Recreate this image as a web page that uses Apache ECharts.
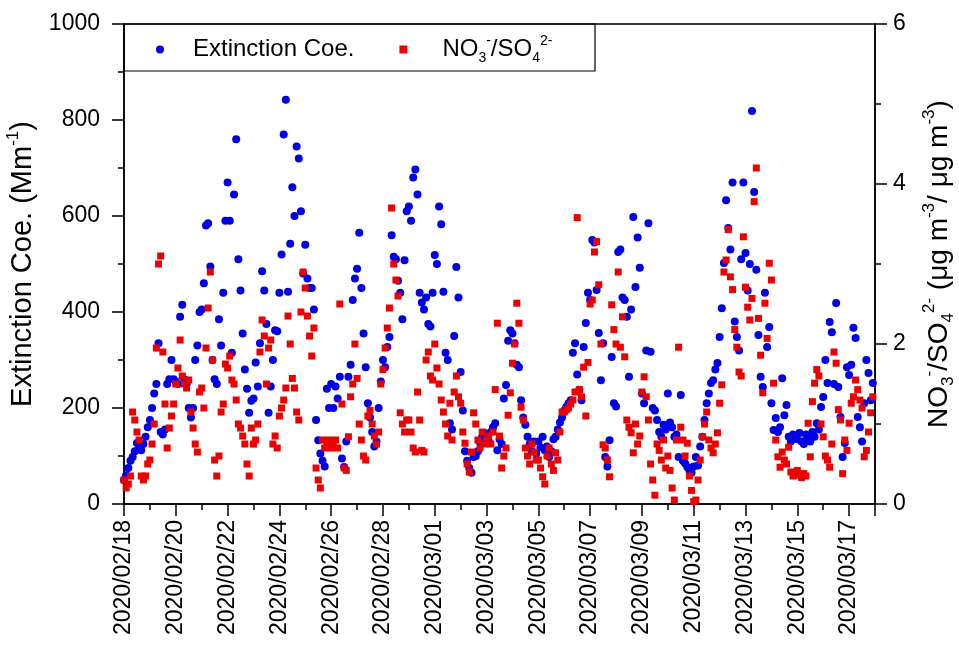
<!DOCTYPE html>
<html>
<head>
<meta charset="utf-8">
<script src="https://cdn.jsdelivr.net/npm/echarts@6/dist/echarts.min.js"></script>
<style>
  html, body { margin: 0; padding: 0; background: #fff; }
  #chart { width: 959px; height: 646px; }
</style>
</head>
<body>
<div id="chart"></div>
<script>
// Two-hourly readings starting 2020-02-18 00:00 (12 per day, 29 days)
const readingsPerDay = 12;
const dayCount = 29;

// Tick labels every second day along the time axis
const dateTicks = [
  '2020/02/18', '2020/02/20', '2020/02/22', '2020/02/24', '2020/02/26',
  '2020/02/28', '2020/03/01', '2020/03/03', '2020/03/05', '2020/03/07',
  '2020/03/09', '2020/03/11', '2020/03/13', '2020/03/15', '2020/03/17'
];

// Extinction coefficient (Mm^-1), one row per day
const extinction = [
  50, 60, 75, 90, 98, 110, 127, 120, 112, 125, 140, 160,
  175, 200, 230, 250, 335, 150, 145, 155, 250, 260, 300, 260,
  255, 250, 390, 415, 260, 250, 200, 180, 200, 300, 330, 400,
  405, 460, 580, 585, 495, 300, 260, 250, 385, 330, 440, 590,
  670, 590, 315, 645, 760, 510, 445, 355, 280, 240, 190, 215,
  220, 295, 245, 335, 485, 445, 375, 190, 245, 300, 362, 360,
  440, 520, 770, 842, 442, 542, 660, 600, 745, 720, 610, 480,
  540, 470, 450, 450, 405, 175, 133, 105, 90, 78, 240, 200,
  250, 200, 245, 220, 265, 95, 77, 130, 265, 290, 425, 470,
  490, 565, 450, 355, 285, 210, 180, 150, 120, 130, 200, 255,
  300, 285, 327, 348, 560, 515, 510, 465, 440, 385, 508, 610,
  620, 590, 680, 697, 645, 440, 420, 405, 430, 375, 370, 440,
  519, 500, 620, 583, 442, 315, 300, 168, 155, 350, 494, 430,
  275, 195, 110, 90, 75, 65, 98, 100, 110, 128, 140, 148,
  145, 130, 150, 160, 168, 112, 135, 125, 220, 248, 340, 362,
  355, 335, 290, 285, 216, 180, 165, 140, 125, 110, 130, 105,
  130, 118, 140, 112, 120, 98, 110, 135, 140, 155, 170, 180,
  195, 202, 210, 216, 315, 335, 270, 238, 216, 327, 377, 440,
  425, 550, 545, 446, 356, 258, 335, 98, 78, 133, 306, 210,
  203, 525, 530, 430, 425, 390, 265, 405, 598, 452, 555, 492,
  230, 210, 320, 585, 317, 200, 195, 175, 150, 140, 165, 155,
  230, 170, 160, 140, 145, 98, 227, 90, 85, 77, 70, 65,
  78, 98, 80, 120, 140, 175, 210, 230, 252, 258, 280, 294,
  348, 408, 502, 633, 575, 530, 670, 380, 348, 320, 510, 670,
  523, 445, 500, 819, 650, 488, 352, 265, 244, 440, 327, 369,
  210, 154, 179, 150, 160, 262, 185, 206, 140, 130, 145, 140,
  135, 148, 130, 125, 145, 138, 130, 150, 140, 168, 155, 202,
  223, 300, 252, 379, 358, 250, 419, 244, 181, 98, 127, 285,
  269, 290, 367, 346, 181, 160, 130, 210, 300, 273, 216, 252
];

// NO3-/SO4 2- mass ratio, one row per day
const ratio = [
  0.3, 0.2, 0.25, 0.35, 1.15, 1.05, 0.9, 0.8, 0.35, 0.3, 0.35, 0.5,
  0.55, 0.75, 1.0, 1.95, 3.0, 3.1, 1.9, 1.25, 0.7, 0.95, 1.1, 1.25,
  1.5, 1.7, 2.05, 1.6, 1.5, 1.45, 1.55, 1.15, 0.95, 0.75, 0.65, 1.4,
  1.45, 1.2, 1.95, 2.45, 2.9, 1.8, 0.55, 0.35, 0.6, 1.15, 1.25, 1.75,
  1.7, 1.85, 1.55, 1.5, 1.3, 1.0, 0.95, 0.85, 0.75, 0.5, 0.35, 0.95,
  0.75, 0.8, 1.0, 1.9, 2.3, 2.1, 1.5, 1.95, 2.05, 0.75, 0.85, 0.7,
  1.1, 1.2, 1.3, 1.45, 2.35, 2.0, 1.57, 1.45, 1.15, 1.05, 2.4, 2.9,
  2.7, 2.35, 2.1, 1.85, 2.2, 0.45, 0.3, 0.2, 0.8, 0.7, 0.75, 0.8,
  0.7, 0.75, 0.8, 0.7, 2.5, 1.25, 0.45, 0.42, 0.84, 1.34, 1.5, 2.0,
  1.57, 1.0, 0.8, 0.6, 0.55, 1.1, 1.17, 1.0, 0.85, 0.75, 0.9, 1.5,
  1.68, 1.95, 2.2, 2.45, 3.7, 3.0, 2.8, 2.6, 1.14, 1.0, 0.9, 1.05,
  1.05, 0.9, 0.7, 0.65, 1.4, 1.05, 0.67, 0.65, 1.8, 1.9, 1.6, 1.55,
  2.0, 1.7, 1.5, 1.3, 1.15, 1.0, 0.85, 1.26, 0.8, 1.4, 1.6, 1.34,
  1.26, 0.9, 0.76, 0.5, 0.4, 0.65, 1.14, 1.0, 0.8, 0.7, 0.9, 0.75,
  0.8, 0.85, 0.75, 0.9, 1.43, 2.26, 0.85, 0.45, 0.6, 0.7, 1.11, 1.39,
  1.76, 2.0, 2.51, 2.26, 1.21, 1.05, 0.7, 0.6, 0.5, 0.75, 0.65, 0.55,
  0.55, 0.45, 0.34, 0.25, 0.6, 0.7, 0.5, 0.42, 0.64, 0.55, 0.9, 1.15,
  1.15, 1.18, 1.2, 1.25, 1.3, 1.4, 3.58, 1.43, 1.34, 1.71, 1.1, 1.77,
  2.5, 2.55, 3.15, 3.28, 2.74, 2.0, 0.74, 0.7, 0.55, 0.34, 2.49, 2.18,
  2.0, 2.9, 1.96, 2.34, 1.84, 1.05, 0.96, 0.89, 0.64, 1.0, 0.75, 0.85,
  1.4, 1.59, 1.34, 1.05, 0.5, 0.3, 0.11, 0.75, 0.67, 0.55, 0.8, 0.45,
  0.6, 0.42, 0.2, 0.05, 0.8, 1.96, 0.96, 0.8, 0.6, 0.76, 0.35, 0.17,
  0.03, 0.05, 0.3, 0.55, 0.84, 1.0, 1.15, 0.8, 0.7, 0.64, 0.75, 0.89,
  1.26, 1.49, 2.9, 3.05, 3.43, 2.84, 2.68, 2.18, 1.96, 1.65, 1.6, 3.34,
  2.71, 2.46, 2.3, 2.57, 3.78, 4.2, 2.32, 1.86, 1.39, 2.51, 2.07, 3.01,
  2.8, 1.51, 0.8, 0.59, 0.46, 0.65, 0.55, 0.5, 0.71, 0.4, 0.35, 0.38,
  0.42, 0.36, 0.33, 0.38, 0.35, 1.01, 0.59, 1.28, 1.51, 1.68, 1.6, 1.0,
  0.84, 0.6, 0.55, 0.46, 0.75, 1.9, 1.76, 1.18, 1.05, 0.38, 0.8, 0.67,
  1.01, 1.26, 1.34, 1.55, 1.43, 1.3, 1.2, 0.59, 0.67, 0.9, 1.14, 1.34
];

const FONT = '"Liberation Sans", Arial, sans-serif';
const BLUE = '#0000e6';
const RED = '#ee0000';

const toPoints = arr => arr.map((v, i) => [i / readingsPerDay, v]);

const scriptStyles = size => ({
  t: { fontFamily: FONT, fontSize: size, color: '#000', lineHeight: Math.round(size * 1.3) },
  sup: { fontFamily: FONT, fontSize: Math.round(size * 0.6), color: '#000', verticalAlign: 'top', lineHeight: Math.round(size * 0.6) },
  sub: { fontFamily: FONT, fontSize: Math.round(size * 0.6), color: '#000', verticalAlign: 'bottom', lineHeight: Math.round(size * 0.6) }
});

const axisCommon = {
  axisLine: { show: true, lineStyle: { color: '#000', width: 1.5 } },
  axisTick: { show: true, length: 12, lineStyle: { color: '#000', width: 1.5 } },
  minorTick: { show: true, splitNumber: 2, length: 6, lineStyle: { color: '#000', width: 1.5 } },
  splitLine: { show: false },
  axisLabel: { color: '#000', fontFamily: FONT, fontSize: 23 }
};

const legendNames = ['Extinction Coe.', 'NO3-/SO42-'];

const chart = echarts.init(document.getElementById('chart'), null, { renderer: 'canvas' });
chart.setOption({
  animation: false,
  backgroundColor: '#fff',
  grid: {
    left: 124, right: 84, top: 24, bottom: 142,
    outerBoundsMode: 'none', containLabel: false,
    show: true, borderColor: '#000', borderWidth: 1.5, backgroundColor: 'transparent'
  },
  graphic: [{
    type: 'rect',
    shape: { x: 124, y: 24, width: 471, height: 47 },
    style: { fill: null, stroke: '#000', lineWidth: 1.2 },
    z: 5
  }],
  legend: {
    data: [
      { name: legendNames[0], icon: 'circle' },
      { name: legendNames[1], icon: 'rect' }
    ],
    left: 156, top: 34, padding: 0,
    itemWidth: 8, itemHeight: 8, itemGap: 45,
    formatter: name => name === legendNames[0]
      ? '{g1|}{t|Extinction Coe.}'
      : '{g2|}{t|NO}{sub|3}{sup|-}{t|/SO}{sub|4}{sup|2-}',
    textStyle: {
      rich: Object.assign({ g1: { width: 24 }, g2: { width: 30 } }, scriptStyles(24))
    }
  },
  xAxis: Object.assign({}, axisCommon, {
    type: 'value',
    min: 0, max: dayCount, interval: 2,
    axisLabel: Object.assign({}, axisCommon.axisLabel, {
      rotate: 90, margin: 16, showMaxLabel: false,
      formatter: v => dateTicks[Math.round(v / 2)] || ''
    })
  }),
  yAxis: [
    Object.assign({}, axisCommon, {
      type: 'value', position: 'left', min: 0, max: 1000, interval: 200,
      axisLabel: Object.assign({}, axisCommon.axisLabel, { margin: 24, formatter: v => String(v) }),
      name: '{t|Extinction Coe. (Mm}{sup|-1}{t|)}',
      nameLocation: 'middle', nameRotate: 90, nameGap: 80,
      nameTextStyle: { rich: scriptStyles(29) }
    }),
    Object.assign({}, axisCommon, {
      type: 'value', position: 'right', min: 0, max: 6, interval: 2,
      axisLabel: Object.assign({}, axisCommon.axisLabel, { margin: 18 }),
      name: '{t|NO}{sub|3}{sup|-}{t|/SO}{sub|4}{sup|2-}{t| (μg m}{sup|-3}{t|/ μg m}{sup|-3}{t|)}',
      nameLocation: 'middle', nameRotate: 90, nameGap: 46,
      nameTextStyle: { rich: scriptStyles(28) }
    })
  ],
  series: [
    {
      name: legendNames[0], type: 'scatter', yAxisIndex: 0,
      symbol: 'circle', symbolSize: 8,
      itemStyle: { color: BLUE, opacity: 1 },
      data: toPoints(extinction)
    },
    {
      name: legendNames[1], type: 'scatter', yAxisIndex: 1,
      symbol: 'rect', symbolSize: 7,
      itemStyle: { color: RED, opacity: 1 },
      data: toPoints(ratio)
    }
  ]
});
</script>
</body>
</html>
